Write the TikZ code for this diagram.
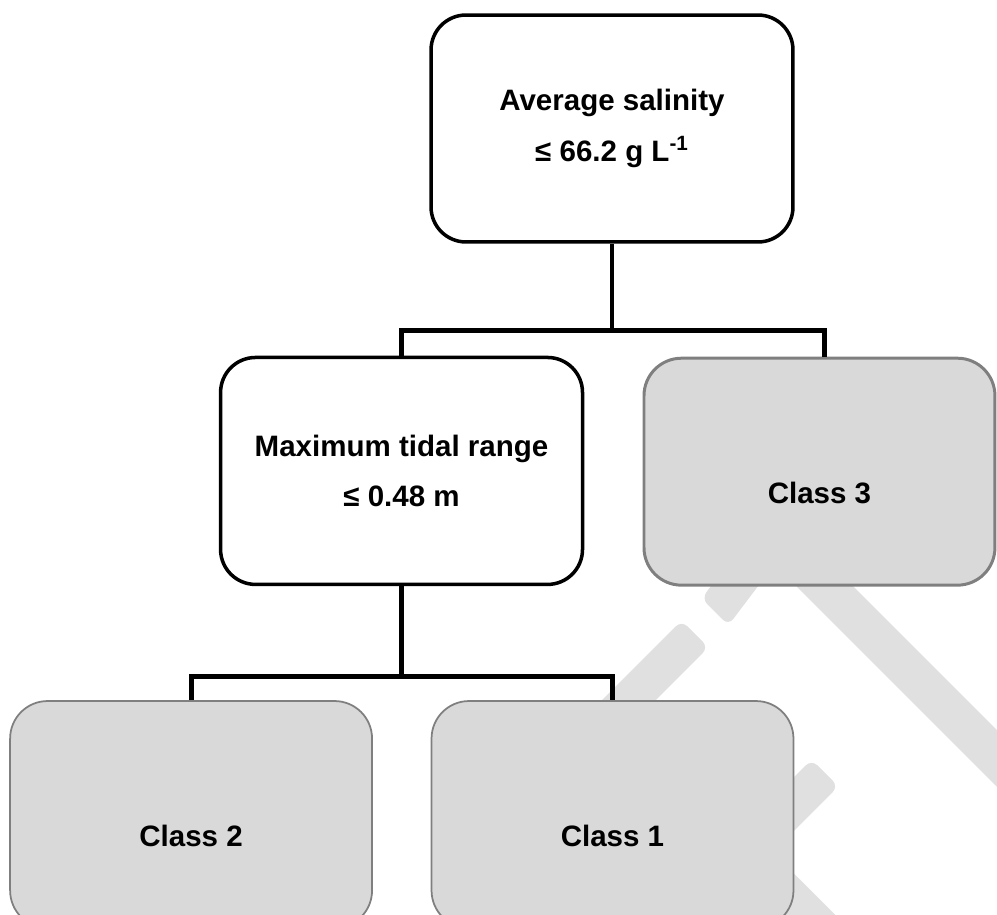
\documentclass[tikz,border=0pt]{standalone}
\usepackage{fontspec}
\setmainfont{Liberation Sans}
\usepackage{tikz}
\usetikzlibrary{positioning}

\definecolor{leafgray}{HTML}{D9D9D9}
\definecolor{rimgray}{HTML}{7F7F7F}
\definecolor{wmgray}{HTML}{E0E0E0}

\begin{document}
\begin{tikzpicture}[
    x=0.02cm, y=-0.02cm,
    split/.style={draw, line width=2pt, rounded corners=7mm, fill=white, align=center,
      minimum width=72.4mm, minimum height=45.4mm, font=\fontsize{16.8pt}{29pt}\selectfont\bfseries},
    leaf/.style={draw=rimgray, line width=1pt, rounded corners=7.5mm, fill=leafgray,
      minimum width=72.4mm, minimum height=45.4mm, text height=36pt, text depth=0pt,
      font=\fontsize{16.8pt}{29pt}\selectfont\bfseries},
    link/.style={draw, line width=2.8pt},
    wmband/.style={draw=wmgray, line width=8mm},
    wmstub/.style={fill=wmgray, rounded corners=1.6mm}
  ]
  \useasboundingbox (0,0) rectangle (997,915);

  % faint logo behind the tree
  \draw[wmband] (700,461.5) -- (1100,861.5);
  \draw[wmband] (700,808) -- (900,1008);
  \fill[wmstub] (814,512) -- (728.4,625.4) -- (701.6,598.6) -- (786,485) -- cycle;
  \fill[wmstub] (708.4,647.4) -- (681.6,620.6) -- (586,716) -- (613,743) -- cycle;
  \fill[wmstub] (838.4,786.4) -- (811.6,759.6) -- (731,840) -- (758,867) -- cycle;

  \node[split] (salinity) at (612,128.5) {Average salinity\\≤ 66.2 g L\textsuperscript{-1}};
  \node[split, below=22.4mm of salinity, xshift=-42.1mm] (tidal) {Maximum tidal range\\≤ 0.48 m};
  \node[leaf, line width=1.7pt, minimum width=70.2mm, below=22.6mm of salinity, xshift=41.5mm] (class3) {Class 3};
  \node[leaf, below=22.8mm of tidal, xshift=-42.1mm] (class2) {Class 2};
  \node[leaf, below=22.8mm of tidal, xshift=42.2mm] (class1) {Class 1};

  \draw[link] (salinity.south) -- ++(0,87) coordinate (fork1);
  \draw[link] (tidal.north) |- (fork1) -| ([xshift=1mm]class3.north);
  \draw[link] (tidal.south) -- ++(0,90) coordinate (fork2);
  \draw[link] (class2.north) |- (fork2) -| (class1.north);
\end{tikzpicture}
\end{document}
